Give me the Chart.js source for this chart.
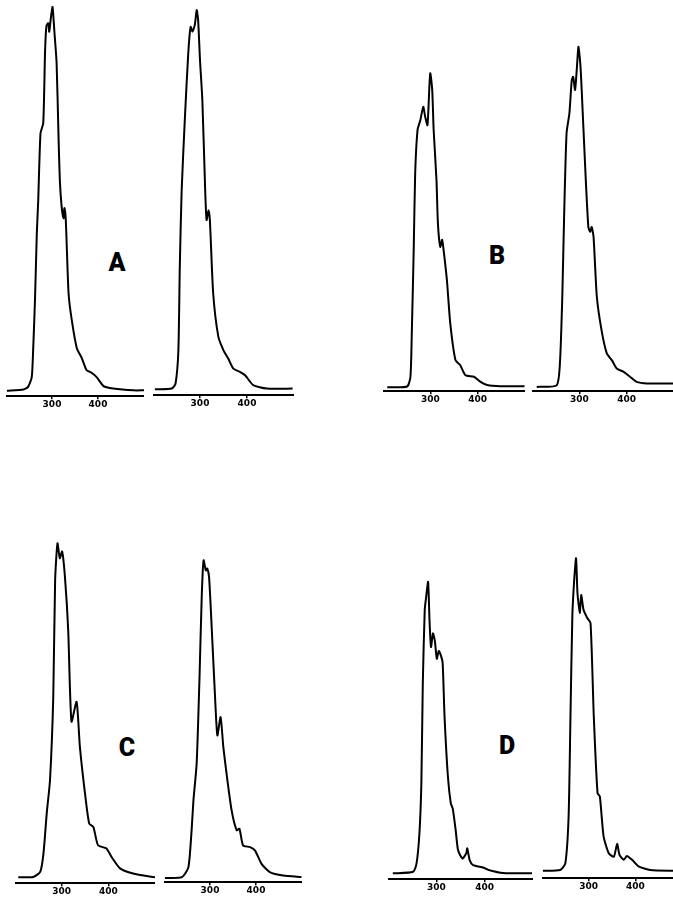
<!DOCTYPE html>
<html>
<head>
<meta charset="utf-8">
<script src="https://cdn.jsdelivr.net/npm/chart.js@4.4.1/dist/chart.umd.min.js"></script>
<style>
  html, body { margin: 0; padding: 0; background: #fff; }
  body { position: relative; width: 673px; height: 898px; overflow: hidden; }
  .plot { position: absolute; }
  .tag {
    position: absolute;
    font-family: Roboto, "Liberation Sans", sans-serif;
    font-weight: 900;
    font-size: 25px;
    line-height: 1;
    color: #000;
    transform: translate(-50%, -50%);
  }
</style>
</head>
<body>
<div class="tag" style="left:117px;top:262px">A</div>
<div class="tag" style="left:497px;top:255px">B</div>
<div class="tag" style="left:127px;top:747px">C</div>
<div class="tag" style="left:507px;top:745px">D</div>
<script>
// wavelength (nm) and relative intensity
const tickValues = [300, 400];

const aLeftNm = [202, 238, 248, 256, 259, 263, 267, 270, 275, 281, 285, 288, 292, 294, 297, 301, 303, 305, 310, 314, 317, 321, 325, 327, 330, 336, 343, 354, 365, 375, 386, 397, 412, 433, 477, 500];
const aLeftInt = [1.4, 1.7, 2.4, 4.9, 11.8, 24.6, 41.8, 50, 67.4, 70, 88.7, 95, 95.6, 93.4, 96.4, 99.8, 97.3, 93.8, 85.4, 67.4, 55.4, 48.5, 45.6, 48.2, 45.1, 26.4, 19.5, 12.3, 9.7, 6.7, 6, 4.9, 2.6, 2, 1.5, 1.5];

const aRightNm = [204, 240, 248, 254, 257, 261, 268, 275, 280, 284, 289, 293, 296, 300, 305, 311, 314, 318, 321, 328, 339, 350, 360, 371, 385, 396, 413, 442, 497];
const aRightInt = [1.5, 1.7, 3, 11.5, 32.9, 52.6, 71.4, 87.6, 94.4, 93.2, 94.9, 98.7, 96.2, 85.9, 75.6, 52.6, 44.9, 47.4, 44.9, 26.2, 15, 11.5, 9.4, 6.8, 6, 5.1, 2.6, 1.7, 1.7];

const bLeftNm = [209, 251, 258, 261, 265, 268, 273, 279, 285, 289, 294, 298, 300, 304, 307, 313, 316, 321, 325, 328, 335, 342, 353, 363, 374, 392, 406, 420, 448, 499];
const bLeftInt = [1, 1.2, 3.7, 15.7, 37, 55.9, 67, 69.5, 72.9, 70.4, 68.2, 78.1, 81.5, 77.2, 67, 54.1, 43, 37, 38.8, 36.2, 28.5, 17.5, 8, 6.7, 4.1, 3.7, 2.4, 1.6, 1.3, 1.3];

const bRightNm = [210, 252, 259, 264, 268, 273, 279, 284, 287, 291, 295, 298, 302, 305, 312, 319, 323, 326, 330, 337, 347, 358, 369, 379, 393, 407, 421, 443, 499];
const bRightInt = [1.1, 1.5, 7.2, 24.2, 45.6, 66.1, 71.2, 79.7, 80.6, 77.2, 83.2, 88.3, 84, 77.2, 58.4, 42.1, 40.8, 42.1, 39.6, 24.2, 15.6, 9.7, 7.9, 5.8, 5, 3.7, 2.4, 2, 2];

const cLeftNm = [207, 239, 254, 261, 268, 275, 282, 286, 291, 296, 301, 307, 314, 321, 332, 339, 350, 359, 368, 378, 396, 407, 425, 453, 500];
const cLeftInt = [1.5, 1.6, 2.9, 7.6, 17.9, 26.4, 47.8, 77.7, 87.1, 83.3, 85, 78.5, 64.9, 41.4, 46.5, 35, 23, 15.3, 14.4, 9.7, 8.9, 6.7, 3.8, 2.5, 1.5];

const cRightNm = [202, 239, 253, 260, 264, 271, 277, 282, 286, 291, 294, 298, 304, 311, 316, 323, 329, 336, 347, 358, 364, 372, 387, 398, 412, 430, 459, 499];
const cRightInt = [1.1, 1.3, 3.8, 13.3, 21, 30.4, 51.7, 73.1, 82.5, 79.9, 80.4, 78.2, 64.5, 47.4, 37.6, 42.3, 34.6, 27.8, 18.4, 13.3, 13.7, 9.4, 9, 8.1, 4.7, 2.6, 1.7, 1.3];

const dLeftNm = [210, 252, 259, 265, 269, 272, 276, 279, 283, 286, 289, 293, 297, 301, 305, 309, 313, 317, 324, 330, 334, 340, 345, 354, 362, 364, 369, 376, 397, 410, 438, 498];
const dLeftInt = [1.5, 1.9, 4, 11.7, 24.5, 50.2, 69, 72.4, 76.2, 66, 59.5, 63, 61, 56.5, 58.5, 57.5, 55.5, 41.6, 26.2, 19.4, 18.1, 12.6, 7.4, 5.3, 6.7, 7.9, 4.9, 3.6, 3, 2.3, 1.6, 1.5];

const dRightNm = [202, 239, 250, 257, 261, 265, 269, 273, 276, 281, 284, 289, 297, 304, 311, 319, 324, 332, 343, 354, 361, 366, 375, 382, 393, 407, 432, 482, 500];
const dRightInt = [1.9, 2.1, 3.8, 15.8, 41.4, 67.1, 76.5, 82, 73.1, 68, 72.6, 68.8, 66.7, 65.4, 41.4, 21.8, 20.9, 10.7, 6.4, 5.5, 8.8, 6, 4.7, 5.7, 4.7, 3, 2.1, 1.9, 1.9];

// where each small trace sits on the page (x of 200 nm, x of 500 nm, axis line y)
const plots = [
  { x0: 6, x1: 144, axisY: 396, nm: aLeftNm, val: aLeftInt },
  { x0: 153, x1: 294, axisY: 395, nm: aRightNm, val: aRightInt },
  { x0: 383, x1: 525, axisY: 391, nm: bLeftNm, val: bLeftInt },
  { x0: 532, x1: 674, axisY: 391, nm: bRightNm, val: bRightInt },
  { x0: 15, x1: 155, axisY: 883, nm: cLeftNm, val: cLeftInt },
  { x0: 164, x1: 302, axisY: 882, nm: cRightNm, val: cRightInt },
  { x0: 388, x1: 533, axisY: 879, nm: dLeftNm, val: dLeftInt },
  { x0: 542, x1: 682, axisY: 878, nm: dRightNm, val: dRightInt },
];

const SPAN = 390; // px between 0 and 100 on the intensity scale

function plotConfig(p) {
  return {
    type: "line",
    data: {
      datasets: [{
        data: p.nm.map((x, i) => ({ x, y: p.val[i] })),
        borderColor: "#000",
        borderWidth: 2,
        pointRadius: 0,
        tension: 0.2,
        fill: false,
      }],
    },
    options: {
      responsive: false,
      animation: false,
      events: [],
      layout: { padding: 0 },
      plugins: { legend: { display: false }, tooltip: { enabled: false } },
      scales: {
        x: {
          type: "linear",
          min: 200,
          max: 500,
          afterBuildTicks: (scale) => { scale.ticks = tickValues.map((v) => ({ value: v })); },
          grid: { drawOnChartArea: false, drawTicks: true, tickLength: 3, color: "#000", lineWidth: 1.5 },
          border: { display: true, color: "#000", width: 2 },
          ticks: {
            color: "#000",
            padding: 0,
            maxRotation: 0,
            font: { family: "DejaVu Sans", weight: "bold", size: 9 },
          },
        },
        y: { display: false, min: 0, max: 100 },
      },
    },
  };
}

function makeCanvas(w, h) {
  const wrap = document.createElement("div");
  wrap.className = "plot";
  const canvas = document.createElement("canvas");
  canvas.width = w;
  canvas.height = h;
  canvas.style.width = w + "px";
  canvas.style.height = h + "px";
  wrap.appendChild(canvas);
  document.body.appendChild(wrap);
  return { wrap, canvas };
}

// measure the height the x axis takes, once
const probe = makeCanvas(140, 420);
const probeChart = new Chart(probe.canvas.getContext("2d"), plotConfig(plots[0]));
const axisH = 420 - probeChart.chartArea.bottom;
const topPad = probeChart.chartArea.top;
probeChart.destroy();
probe.wrap.remove();

for (const p of plots) {
  const w = Math.round(p.x1 - p.x0);
  const h = Math.round(SPAN + axisH + topPad);
  const { wrap, canvas } = makeCanvas(w, h);
  const chart = new Chart(canvas.getContext("2d"), plotConfig(p));
  wrap.style.left = (p.x0 - chart.chartArea.left) + "px";
  wrap.style.top = (p.axisY - chart.chartArea.bottom) + "px";
}
</script>
</body>
</html>
